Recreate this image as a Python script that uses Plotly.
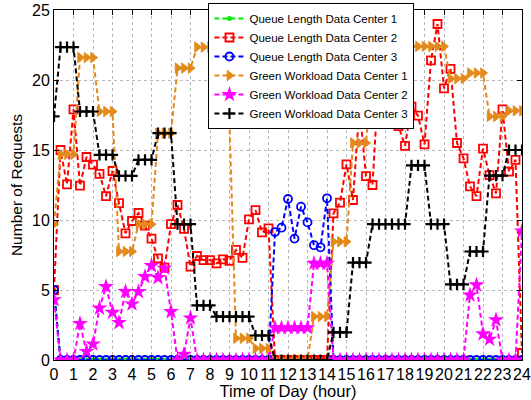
import plotly.graph_objects as go

# time axis: one sample every 20 minutes, 0..24 h
hours = [k / 3 for k in range(73)]

queue_dc1 = [5] + [0] * 72

queue_dc2 = [5, 15.0, 12.55, 17.9, 12.45, 14.5, 13.95, 13.3, 11.7, 13.5,
             11.2, 9.05, 9.93, 10.5, 9.6, 8.67, 7.26, 6.6, 9.7, 11.07,
             9.36, 6.67, 7.43, 7.14, 7.14, 6.9, 7.19, 7.09, 7.86, 7.29,
             10.05, 10.7, 9.12, 9.4, 0, 0, 0, 0, 0, 0,
             0, 0, 0, 10.48, 11.24, 13.98, 11.43, 18.1, 13.14, 12.5,
             20.5, 19.5, 20.8, 16.7, 15.3, 18.1, 17.45, 15.4, 21.4, 24.0,
             19.4, 20.8, 15.5, 14.4, 12.4, 11.7, 15.1, 13.2, 11.9, 17.9,
             13.45, 14.3, 0.5]

queue_dc3 = ([5] + [0] * 33 +
             [9.14, 9.45, 11.5, 8.67, 10.95, 9.83, 8.2, 8.05, 11.55] +
             [0] * 30)

green_dc1 = ([9.7] + [14.7] * 3 + [21.6] * 3 + [17.75] * 3 + [7.75] * 3 +
             [9.7] * 3 + [16.2] * 3 + [20.85] * 3 + [22.35] * 3 + [17.0] * 3 +
             [1.55] * 3 + [0.83] * 3 + [0] * 6 + [3.1] * 3 + [8.45] * 3 +
             [15.5] * 3 + [21.0] * 3 + [22.4] * 9 + [20.1] * 3 + [20.5] * 3 +
             [17.4] * 3 + [17.8] * 3)

green_dc2 = ([4.3, 0, 0, 0, 2.6, 0.6, 1.14, 3.7, 5.24, 3.4,
              2.67, 4.88, 4.0, 4.88, 5.95, 6.74, 5.88, 6.55, 3.45, 0,
              0.4, 3.0] + [0] * 12 + [2.3] * 6 + [6.9] * 3 + [0] * 21 +
             [4.64, 5.36, 1.86, 1.48, 2.86, 0, 0, 0, 9.2])

green_dc3 = ([17.4] + [22.35] * 3 + [17.75] * 3 + [14.65] * 3 + [13.15] * 3 +
             [14.3] * 3 + [16.2] * 3 + [9.7] * 3 + [3.9] * 3 + [3.1] * 6 +
             [1.75] * 3 + [0] * 9 + [1.98] * 3 + [6.95] * 3 + [9.7] * 6 +
             [13.9] * 3 + [9.7] * 3 + [5.4] * 3 + [7.75] * 3 + [13.17] * 3 +
             [15.0] * 3)

names = ["Queue Length Data Center 1", "Queue Length Data Center 2",
         "Queue Length Data Center 3", "Green Workload Data Center 1",
         "Green Workload Data Center 2", "Green Workload Data Center 3"]

series = [queue_dc1, queue_dc2, queue_dc3, green_dc1, green_dc2, green_dc3]
colors = ["#00EE00", "#FF0000", "#0000FF", "#E38A1C", "#FF00FF", "#000000"]
symbols = ["circle", "square-open", "circle-open", "triangle-right", "star", "cross-thin"]
msizes = [5, 8, 8, 9, 12, 8]
mlines = [0, 1.8, 1.8, 1, 0, 2.2]

fig = go.Figure()
for name, ys, c, s, ms, ml in zip(names, series, colors, symbols, msizes, mlines):
    fig.add_trace(go.Scatter(
        x=hours, y=ys, name=name, mode="lines+markers",
        line=dict(color=c, width=2, dash="5px,3px"),
        marker=dict(symbol=s, size=ms, color=c, line=dict(color=c, width=ml)),
    ))

font = "Liberation Sans, Arial, Helvetica, sans-serif"
fig.update_layout(
    width=531, height=400,
    margin=dict(l=54, r=9, t=10, b=40, autoexpand=False),
    paper_bgcolor="white", plot_bgcolor="white",
    font=dict(family=font, size=16, color="black"),
    showlegend=True,
    legend=dict(x=0.33, y=1.02, xanchor="left", yanchor="top",
                bgcolor="white", bordercolor="black", borderwidth=1,
                font=dict(size=11.5, family=font), tracegroupgap=0,
                itemwidth=30),
    xaxis=dict(range=[0, 24], dtick=1, tick0=0, ticks="inside", ticklen=5,
               tickcolor="black", showline=True, linecolor="black", linewidth=1,
               mirror="ticks", showgrid=True, gridcolor="#b8b8b8", griddash="dot",
               gridwidth=1, zeroline=False, tickfont=dict(size=16), tickangle=0,
               title=dict(text="Time of Day (hour)", font=dict(size=16.5), standoff=1),
               automargin=False),
    yaxis=dict(range=[0, 25], dtick=5, tick0=0, ticks="inside", ticklen=5,
               tickcolor="black", showline=True, linecolor="black", linewidth=1,
               mirror="ticks", showgrid=True, gridcolor="#b8b8b8", griddash="dot",
               gridwidth=1, zeroline=False, tickfont=dict(size=16),
               title=dict(text="Number of Requests", font=dict(size=15.5), standoff=5),
               automargin=False),
)

fig.write_html("out.html")
